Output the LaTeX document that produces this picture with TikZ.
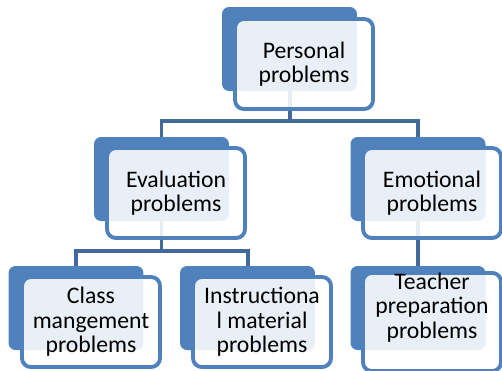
\documentclass[tikz,border=0pt]{standalone}
\usepackage{fontspec}
\setmainfont{Carlito}
\usetikzlibrary{positioning,backgrounds}
\definecolor{boxblue}{RGB}{79,129,189}
\definecolor{linkblue}{RGB}{65,105,155}

\begin{document}
\begin{tikzpicture}[
    x=0.02cm, y=-0.02cm,
    back/.style={fill=boxblue, rounded corners=4pt, minimum width=2.7cm, minimum height=1.68cm, inner sep=0pt},
    front/.style={draw=boxblue, line width=2.2pt, fill=white, fill opacity=0.88, text opacity=1, rounded corners=5pt, minimum width=2.76cm, minimum height=1.8cm, inner sep=0pt, align=center, font=\fontsize{13.5}{14}\selectfont},
    conn/.style={draw=linkblue, line width=2.27pt}
]
\useasboundingbox (0,0) rectangle (502,370);

\node[back] (Pb) at (289.5,49) {};
\node[front] (Pf) at (304,64) {Personal\\problems};
\node[back] (Eb) at (161.5,179) {};
\node[front] (Ef) at (176,193) {Evaluation\\problems};
\node[back] (Mb) at (418,179) {};
\node[front] (Mf) at (432,193) {Emotional\\problems};
\node[back] (Cb) at (76,308) {};
\node[front] (Cf) at (91,322) {Class\\mangement\\problems};
\node[back] (Ib) at (247.5,308) {};
\node[front] (If) at (262,322) {Instructiona\\l material\\problems};
\node[back] (Tb) at (418,308) {};
\node[front, text depth=18.5pt] (Tf) at (432,322) {Teacher\\preparation\\problems};

\begin{scope}[on background layer]
\coordinate (j1) at (289.5,121);
\coordinate (j2) at (161.5,251);
\draw[conn] (Pb.south) -- (j1);
\draw[conn] (Eb.north) |- (j1) -| (Mb.north);
\draw[conn] (Eb.south) -- (j2);
\draw[conn] (Cb.north) |- (j2) -| (Ib.north);
\draw[conn] (Mb.south) -- (Tb.north);
\end{scope}
\end{tikzpicture}
\end{document}
